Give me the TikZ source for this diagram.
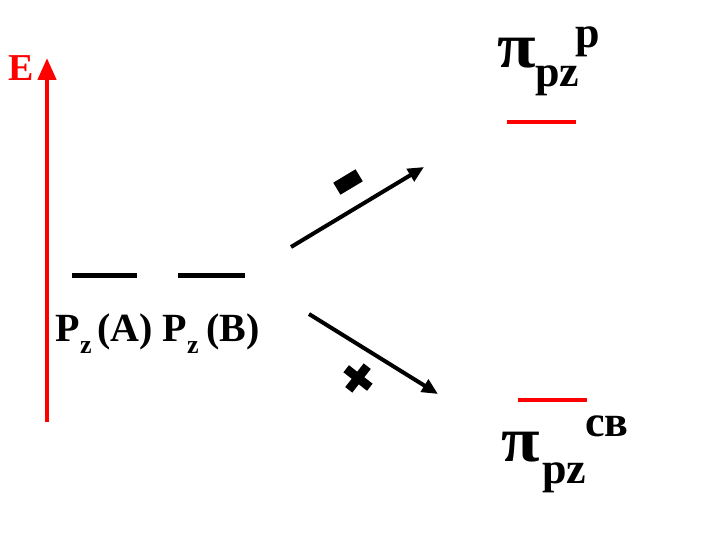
\documentclass[tikz,border=0pt]{standalone}
\usepackage{fontspec}
\setmainfont{Liberation Serif}
\usetikzlibrary{arrows.meta}
\begin{document}
\begin{tikzpicture}[x=1pt,y=-1pt,
  lvl/.style={line width=5pt},
  redlvl/.style={line width=4.5pt, red},
  arr/.style={line width=4pt, -{Triangle[length=16pt,width=14pt]}},
  txt/.style={inner sep=0pt, font=\bfseries\fontsize{40}{44}\selectfont},
  ztxt/.style={inner sep=0pt, font=\bfseries\fontsize{26}{28}\selectfont},
  pitxt/.style={inner sep=0pt, font=\bfseries\fontsize{64}{66}\selectfont},
  subtxt/.style={inner sep=0pt, font=\bfseries\fontsize{44}{48}\selectfont},
  bar/.style={fill=black, inner sep=0pt}]
\useasboundingbox (0,0) rectangle (720,540);

% energy axis
\coordinate (ebot) at (47,422);
\coordinate (etop) at (47,58);
\draw[red, line width=4.5pt, -{Triangle[length=22pt,width=18pt]}] (ebot) -- (etop);
\node[txt, font=\bfseries\fontsize{38}{40}\selectfont, text=red, anchor=base west] (E) at (8,81) {E};

% atomic levels
\coordinate (a1) at (72,275); \coordinate (a2) at (137,275);
\coordinate (b1) at (178,275); \coordinate (b2) at (245,275);
\draw[lvl] (a1) -- (a2);
\draw[lvl] (b1) -- (b2);
\node[txt, anchor=base west] (pa) at (55,341) {P};
\node[ztxt, anchor=base west] (za) at (80,353) {z};
\node[txt, anchor=base west] (la) at (97,341) {(A)};
\node[txt, anchor=base west] (pb) at (162,341) {P};
\node[ztxt, anchor=base west] (zb) at (187,353) {z};
\node[txt, anchor=base west] (lb) at (206,341) {(B)};

% arrows
\coordinate (u1) at (291,247); \coordinate (u2) at (424,167);
\coordinate (l1) at (309,314); \coordinate (l2) at (438,394);
\draw[arr] (u1) -- (u2);
\draw[arr] (l1) -- (l2);

% minus and plus signs
\node[bar, minimum width=26pt, minimum height=14pt, rotate=31] (minus) at (348,182) {};
\node[bar, minimum width=30pt, minimum height=9pt, rotate=-38] (plusa) at (358,378) {};
\node[bar, minimum width=30pt, minimum height=9pt, rotate=52] (plusb) at (358,378) {};

% antibonding level
\coordinate (t1) at (507,122); \coordinate (t2) at (576,122);
\draw[redlvl] (t1) -- (t2);
\node[pitxt, anchor=base west, xscale=1.1] (pitop) at (497,68) {π};
\node[subtxt, anchor=base west] (pztop) at (535,87) {pz};
\node[subtxt, anchor=base west] (sup1) at (575,48) {р};

% bonding level
\coordinate (s1) at (518,400); \coordinate (s2) at (587,400);
\draw[redlvl] (s1) -- (s2);
\node[pitxt, anchor=base west, xscale=1.1] (pibot) at (501,461) {π};
\node[subtxt, anchor=base west] (pzbot) at (542,483) {pz};
\node[subtxt, anchor=base west] (sup2) at (585,436) {св};
\end{tikzpicture}
\end{document}
